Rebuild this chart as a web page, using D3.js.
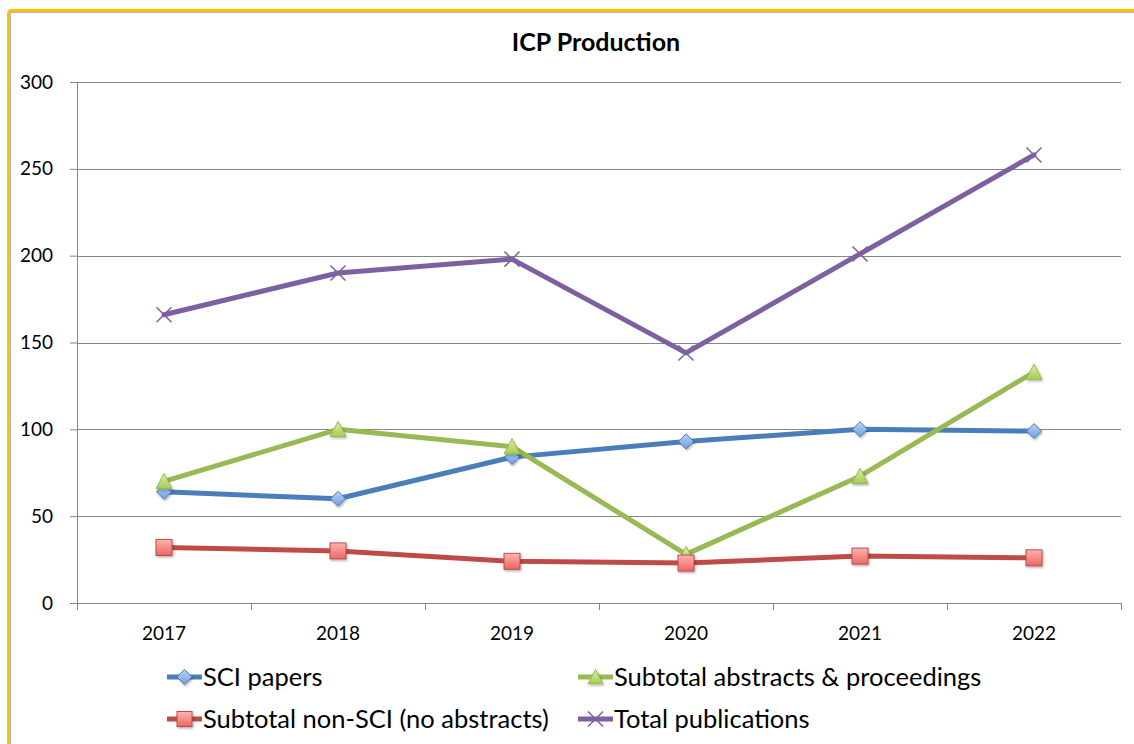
<!DOCTYPE html>
<html>
<head>
<meta charset="utf-8">
<script src="https://cdn.jsdelivr.net/npm/d3@7"></script>
<style>
  html, body { margin: 0; padding: 0; background: #fff; }
  svg { display: block; font-family: Lato, "Open Sans", sans-serif; }
</style>
</head>
<body>
<svg id="chart" width="1134" height="744"></svg>
<script>
// Publication counts per year
const years = ["2017", "2018", "2019", "2020", "2021", "2022"];
const sciPapers = [64, 60, 84, 93, 100, 99];
const abstractsProceedings = [70, 100, 90, 28, 73, 133];
const nonSci = [32, 30, 24, 23, 27, 26];
const totalPublications = [166, 190, 198, 144, 201, 258];
const yTicks = [0, 50, 100, 150, 200, 250, 300];

const seriesList = [
  { name: "SCI papers", values: sciPapers, color: "#4A7EBB", fillTop: "#B9D3F3", fillBottom: "#6F9FE0", marker: "diamond" },
  { name: "Subtotal abstracts & proceedings", values: abstractsProceedings, color: "#98B954", fillTop: "#DDF0A8", fillBottom: "#A5CC52", marker: "triangle" },
  { name: "Subtotal non-SCI (no abstracts)", values: nonSci, color: "#BE4B48", fillTop: "#FFB3B0", fillBottom: "#E96864", marker: "square" },
  { name: "Total publications", values: totalPublications, color: "#7D60A0", marker: "x" }
];

const svg = d3.select("#chart");
const defs = svg.append("defs");

// soft shadow under markers
const shadow = defs.append("filter").attr("id", "mshadow")
  .attr("x", "-50%").attr("y", "-50%").attr("width", "200%").attr("height", "200%");
shadow.append("feDropShadow").attr("dx", 1).attr("dy", 1.5).attr("stdDeviation", 1)
  .attr("flood-color", "#000").attr("flood-opacity", 0.3);

seriesList.forEach((s, i) => {
  if (!s.fillTop) return;
  const g = defs.append("linearGradient").attr("id", "grad" + i)
    .attr("x1", 0).attr("y1", 0).attr("x2", 0).attr("y2", 1);
  g.append("stop").attr("offset", "0%").attr("stop-color", s.fillTop);
  g.append("stop").attr("offset", "100%").attr("stop-color", s.fillBottom);
  s.grad = "url(#grad" + i + ")";
});

// frame
svg.append("rect").attr("x", 8.5).attr("y", 10.5).attr("width", 1200).attr("height", 800)
  .attr("rx", 3).attr("fill", "none").attr("stroke", "#FFC000").attr("stroke-width", 3);
svg.append("rect").attr("x", 10.5).attr("y", 12.5).attr("width", 1200).attr("height", 800)
  .attr("fill", "none").attr("stroke", "#B4B4B4").attr("stroke-width", 1);

const plot = { left: 77, right: 1121, top: 82, bottom: 603 };

const x = d3.scaleBand().domain(years).range([plot.left, plot.right]);
const y = d3.scaleLinear().domain([0, 300]).range([plot.bottom, plot.top]);
const cx = d => x(d) + x.bandwidth() / 2;

// title
svg.append("text").attr("x", 596).attr("y", 51).attr("text-anchor", "middle")
  .attr("font-size", 25).attr("font-weight", "bold").attr("fill", "#000")
  .text("ICP Production");

// horizontal gridlines + y axis
const yAxis = d3.axisLeft(y).tickValues(yTicks).tickSize(7).tickSizeOuter(0).tickPadding(17);
const yg = svg.append("g").attr("transform", `translate(${plot.left},0)`).call(yAxis);
yg.select(".domain").attr("stroke", "#868686");
yg.selectAll(".tick line").attr("stroke", "#868686");
yg.selectAll(".tick text").attr("font-size", 19).attr("fill", "#000")
  .attr("font-family", "Lato, 'Open Sans', sans-serif");

svg.append("g").selectAll("line").data(yTicks.filter(v => v > 0)).join("line")
  .attr("x1", plot.left).attr("x2", plot.right)
  .attr("y1", d => Math.round(y(d)) + 0.5).attr("y2", d => Math.round(y(d)) + 0.5)
  .attr("stroke", "#868686").attr("stroke-width", 1.2);

// x axis with tick marks on category boundaries
const xg = svg.append("g").attr("transform", `translate(0,${plot.bottom})`);
xg.append("line").attr("x1", plot.left).attr("x2", plot.right).attr("y1", 0.5).attr("y2", 0.5)
  .attr("stroke", "#868686").attr("stroke-width", 1.2);
const boundaries = years.map(d => x(d)).concat([plot.right]);
xg.selectAll("line.tk").data(boundaries).join("line").attr("class", "tk")
  .attr("x1", d => Math.round(d) + 0.5).attr("x2", d => Math.round(d) + 0.5)
  .attr("y1", 0).attr("y2", 7).attr("stroke", "#868686");
xg.selectAll("text").data(years).join("text")
  .attr("x", d => cx(d)).attr("y", 37).attr("text-anchor", "middle")
  .attr("font-size", 19).attr("fill", "#000").text(d => d);

// marker drawing
function drawMarker(g, s, size) {
  const h = size / 2;
  if (s.marker === "diamond") {
    g.append("path").attr("d", `M0,${-h}L${h},0L0,${h}L${-h},0Z`)
      .attr("fill", s.grad).attr("stroke", s.color).attr("stroke-width", 1).attr("filter", "url(#mshadow)");
  } else if (s.marker === "square") {
    g.append("rect").attr("x", -h).attr("y", -h).attr("width", size).attr("height", size)
      .attr("fill", s.grad).attr("stroke", s.color).attr("stroke-width", 1).attr("filter", "url(#mshadow)");
  } else if (s.marker === "triangle") {
    g.append("path").attr("d", `M0,${-h}L${h},${h * 0.9}L${-h},${h * 0.9}Z`)
      .attr("fill", s.grad).attr("stroke", s.color).attr("stroke-width", 1).attr("filter", "url(#mshadow)");
  } else if (s.marker === "x") {
    g.append("path").attr("d", `M${-h},${-h}L${h},${h}M${h},${-h}L${-h},${h}`)
      .attr("stroke", s.color).attr("stroke-width", 1.5).attr("fill", "none");
  }
}

const line = d3.line().x((d, i) => cx(years[i])).y(d => y(d));

// draw in the same stacking order as the series list
seriesList.forEach(s => {
  svg.append("path").datum(s.values).attr("d", line)
    .attr("fill", "none").attr("stroke", s.color).attr("stroke-width", 5)
    .attr("stroke-linejoin", "round").attr("stroke-linecap", "round");
});
seriesList.forEach(s => {
  s.values.forEach((v, i) => {
    const g = svg.append("g").attr("transform", `translate(${cx(years[i])},${y(v)})`);
    drawMarker(g, s, s.marker === "x" ? 15 : (s.marker === "diamond" ? 15 : 16));
  });
});

// legend
const legendPos = [
  { x: 167, y: 677 }, { x: 578, y: 677 },
  { x: 167, y: 719 }, { x: 578, y: 719 }
];
seriesList.forEach((s, i) => {
  const p = legendPos[i];
  const g = svg.append("g").attr("transform", `translate(${p.x},${p.y})`);
  g.append("line").attr("x1", 0).attr("x2", 35).attr("y1", 0).attr("y2", 0)
    .attr("stroke", s.color).attr("stroke-width", 5);
  const mg = g.append("g").attr("transform", "translate(17.5,0)");
  drawMarker(mg, s, 15);
  g.append("text").attr("x", 36).attr("y", 0).attr("dy", "0.35em")
    .attr("font-size", 25.5).attr("fill", "#000").text(s.name);
});
</script>
</body>
</html>
